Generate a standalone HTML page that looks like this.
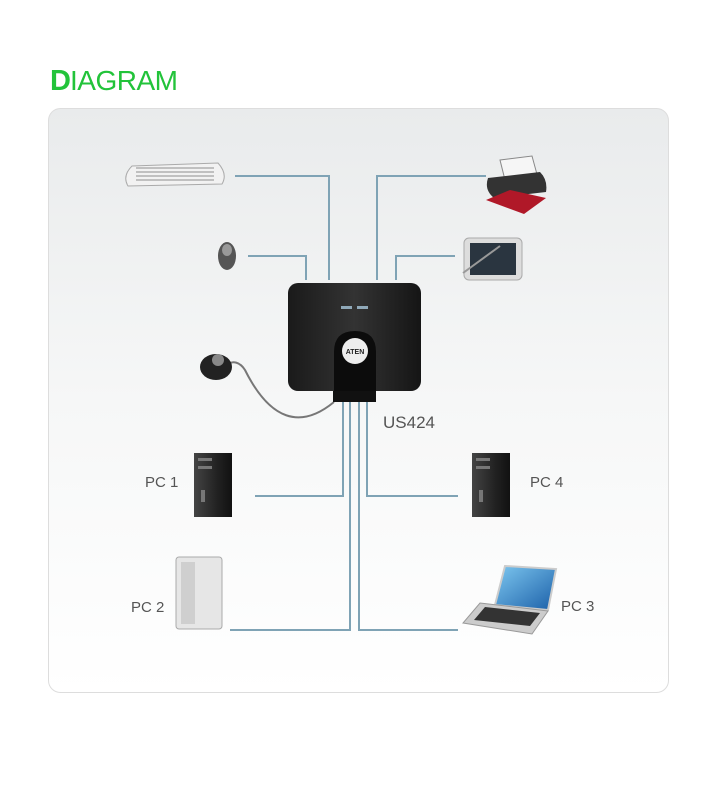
<!DOCTYPE html>
<html><head><meta charset="utf-8"><style>
html,body{margin:0;padding:0;background:#fff;width:720px;height:800px;overflow:hidden}
</style></head><body>
<svg width="720" height="800" viewBox="0 0 720 800" xmlns="http://www.w3.org/2000/svg" font-family="Liberation Sans, sans-serif">
<defs>
<linearGradient id="bg" x1="0" y1="0" x2="0" y2="1"><stop offset="0" stop-color="#e9ebec"/><stop offset="0.5" stop-color="#f6f7f7"/><stop offset="1" stop-color="#ffffff"/></linearGradient>
<linearGradient id="box" x1="0" y1="0" x2="1" y2="0"><stop offset="0" stop-color="#1a1a1a"/><stop offset="0.5" stop-color="#333"/><stop offset="1" stop-color="#151515"/></linearGradient>
<linearGradient id="tower" x1="0" y1="0" x2="1" y2="0"><stop offset="0" stop-color="#444"/><stop offset="0.6" stop-color="#222"/><stop offset="1" stop-color="#111"/></linearGradient>
<linearGradient id="scr" x1="0" y1="0" x2="1" y2="1"><stop offset="0" stop-color="#7ec8f0"/><stop offset="1" stop-color="#1b5fa8"/></linearGradient>
</defs>
<text x="50" y="90" font-size="29" fill="#22c33a" font-weight="bold" letter-spacing="-1">D</text>
<text x="70" y="90" font-size="28" fill="#22c33a" letter-spacing="-0.5">IAGRAM</text>
<rect x="48.5" y="108.5" width="620" height="584" rx="12" fill="url(#bg)" stroke="#ddd"/>
<g stroke="#7fa3b5" stroke-width="2" fill="none">
<polyline points="235,176 329,176 329,280"/>
<polyline points="248,256 306,256 306,280"/>
<polyline points="486,176 377,176 377,280"/>
<polyline points="455,256 396,256 396,280"/>
<polyline points="255,496 343,496 343,395"/>
<polyline points="230,630 350,630 350,395"/>
<polyline points="458,630 359,630 359,395"/>
<polyline points="458,496 367,496 367,395"/>
</g>
<path d="M334,402 C300,430 270,420 245,370 C240,362 232,360 228,365" stroke="#777" stroke-width="2" fill="none"/>
<!-- keyboard -->
<path d="M132,166 L218,163 Q228,174 222,184 L128,186 Q122,176 132,166Z" fill="#f2f2f2" stroke="#aaa"/>
<g fill="#c0c0c0"><rect x="136" y="167" width="78" height="2"/><rect x="136" y="171" width="78" height="2"/><rect x="136" y="175" width="78" height="2"/><rect x="136" y="179" width="78" height="2"/></g>
<!-- mouse -->
<ellipse cx="227" cy="256" rx="9" ry="14" fill="#555"/><ellipse cx="227" cy="250" rx="5" ry="6" fill="#999"/>
<!-- pod -->
<ellipse cx="216" cy="367" rx="16" ry="13" fill="#222"/><circle cx="218" cy="360" r="6" fill="#888"/>
<!-- printer -->
<path d="M500,160 L532,156 L538,178 L505,180Z" fill="#f6f6f6" stroke="#888"/>
<path d="M488,178 L540,172 Q548,180 546,192 L494,198 Q484,190 488,178Z" fill="#333"/>
<path d="M486,200 L524,214 L546,198 L510,190Z" fill="#b01828"/>
<!-- tablet -->
<rect x="464" y="238" width="58" height="42" rx="5" fill="#ddd" stroke="#aaa"/>
<rect x="470" y="243" width="46" height="32" fill="#2a3540"/>
<line x1="463" y1="273" x2="500" y2="246" stroke="#999" stroke-width="2"/>
<!-- switch -->
<rect x="288" y="283" width="133" height="108" rx="10" fill="url(#box)"/>
<rect x="341" y="306" width="11" height="3" fill="#8fa8b8"/><rect x="357" y="306" width="11" height="3" fill="#8fa8b8"/>
<path d="M334,392 L334,352 Q334,331 355,331 Q376,331 376,352 L376,392Z" fill="#0c0c0c"/>
<circle cx="355" cy="351" r="13" fill="#eee"/>
<text x="355" y="354" font-size="7" font-weight="bold" text-anchor="middle" fill="#222">ATEN</text>
<rect x="333" y="391" width="43" height="11" fill="#111"/>
<text x="383" y="428" font-size="17" fill="#555">US424</text>
<!-- PC1 -->
<rect x="194" y="453" width="38" height="64" fill="url(#tower)"/>
<rect x="198" y="458" width="14" height="3" fill="#777"/><rect x="198" y="466" width="14" height="3" fill="#777"/>
<rect x="201" y="490" width="4" height="12" fill="#777"/>
<text x="145" y="487" font-size="15" fill="#555">PC 1</text>
<!-- PC4 -->
<rect x="472" y="453" width="38" height="64" fill="url(#tower)"/>
<rect x="476" y="458" width="14" height="3" fill="#777"/><rect x="476" y="466" width="14" height="3" fill="#777"/>
<rect x="479" y="490" width="4" height="12" fill="#777"/>
<text x="530" y="487" font-size="15" fill="#555">PC 4</text>
<!-- PC2 -->
<rect x="176" y="557" width="46" height="72" rx="3" fill="#e6e6e6" stroke="#aaa"/>
<rect x="181" y="562" width="14" height="62" fill="#cfcfcf"/>
<text x="131" y="612" font-size="15" fill="#555">PC 2</text>
<!-- PC3 -->
<path d="M505,566 L556,569 L548,610 L495,605Z" fill="url(#scr)" stroke="#ccc" stroke-width="2"/>
<path d="M480,603 L548,611 L532,634 L463,623Z" fill="#ccc" stroke="#999"/>
<path d="M485,607 L540,613 L530,626 L474,620Z" fill="#333"/>
<text x="561" y="611" font-size="15" fill="#555">PC 3</text>
</svg>
</body></html>
